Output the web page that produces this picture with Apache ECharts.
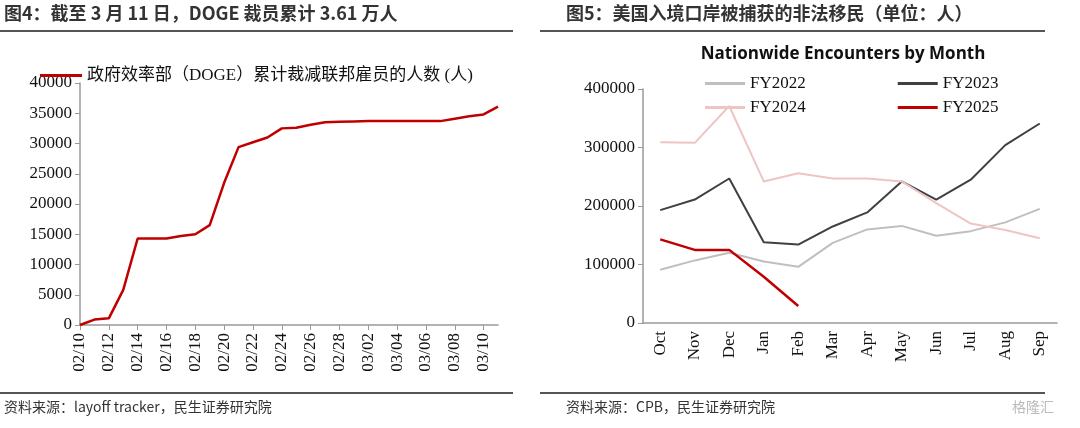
<!DOCTYPE html>
<html>
<head>
<meta charset="utf-8">
<script src="https://cdn.jsdelivr.net/npm/echarts@6/dist/echarts.min.js"></script>
<style>body{margin:0;background:#fff}</style>
</head>
<body>
<div id="main" style="width:1080px;height:428px;"></div>
<script>
// left chart: DOGE cumulative layoffs
var days = ['02/10','02/11','02/12','02/13','02/14','02/15','02/16','02/17','02/18','02/19','02/20','02/21','02/22','02/23','02/24','02/25','02/26','02/27','02/28','03/01','03/02','03/03','03/04','03/05','03/06','03/07','03/08','03/09','03/10','03/11'];
var dogeCuts = [0,900,1100,5800,14300,14300,14300,14700,15000,16500,23500,29400,30200,31000,32500,32600,33100,33500,33600,33650,33700,33700,33700,33700,33700,33700,34100,34500,34800,36100];

// right chart: encounters by month
var months = ['Oct','Nov','Dec','Jan','Feb','Mar','Apr','May','Jun','Jul','Aug','Sep'];
var fy2022 = [91000,107000,120000,105000,96000,137000,160000,166000,149000,157000,172000,195000];
var fy2023 = [193000,211000,247000,138000,134000,165000,189000,242000,211000,245000,304000,341000];
var fy2024 = [309000,308000,371000,242000,256000,247000,247000,242000,205000,170000,159000,145000];
var fy2025 = [143000,125000,125000,79000,29000];

var serif = '"Liberation Serif","Noto Sans CJK SC",serif';
var cjk = '"Noto Sans CJK SC",sans-serif';
var axisLine = {lineStyle: {color: '#999', width: 1.5}};
var axisTxt = {color: '#111', fontFamily: serif, fontSize: 17};
var yTxt = Object.assign({formatter: function (v) { return String(v); }}, axisTxt);

var myChart = echarts.init(document.getElementById('main'));
var option = {
    animation: false,
    graphic: [
        {type: 'text', left: 4, top: 4, style: {text: '图4：截至 3 月 11 日，DOGE 裁员累计 3.61 万人', font: 'bold 18px ' + cjk, fill: '#333'}},
        {type: 'text', left: 566, top: 4, style: {text: '图5：美国入境口岸被捕获的非法移民（单位：人）', font: 'bold 18px ' + cjk, fill: '#333'}},
        {type: 'line', shape: {x1: 0, y1: 31, x2: 513, y2: 31}, style: {stroke: '#555', lineWidth: 2}},
        {type: 'line', shape: {x1: 540, y1: 31, x2: 1045, y2: 31}, style: {stroke: '#555', lineWidth: 2}},
        {type: 'line', shape: {x1: 0, y1: 393, x2: 513, y2: 393}, style: {stroke: '#555', lineWidth: 2}},
        {type: 'line', shape: {x1: 540, y1: 393, x2: 1045, y2: 393}, style: {stroke: '#555', lineWidth: 2}},
        {type: 'text', left: 4, top: 400, style: {text: '资料来源：layoff tracker，民生证券研究院', font: '14px ' + cjk, fill: '#333'}},
        {type: 'text', left: 566, top: 400, style: {text: '资料来源：CPB，民生证券研究院', font: '14px ' + cjk, fill: '#333'}},
        {type: 'text', left: 1012, top: 400, style: {text: '格隆汇', font: '14px ' + cjk, fill: '#bbb'}},
        {type: 'text', x: 843, y: 46, style: {text: 'Nationwide Encounters by Month', font: 'bold 17px "Open Sans",sans-serif', fill: '#111', textAlign: 'center'}}
    ],
    legend: [
        {left: 35, top: 62, itemWidth: 42, itemHeight: 3, icon: 'rect', textStyle: {fontFamily: serif, fontSize: 17, color: '#111'},
         data: ['政府效率部（DOGE）累计裁减联邦雇员的人数 (人)']},
        {left: 700, top: 70, itemWidth: 40, itemHeight: 3, icon: 'rect', itemGap: 92, textStyle: {fontFamily: serif, fontSize: 17, color: '#111'}, data: ['FY2022', 'FY2023']},
        {left: 700, top: 94, itemWidth: 40, itemHeight: 3, icon: 'rect', itemGap: 92, textStyle: {fontFamily: serif, fontSize: 17, color: '#111'}, data: ['FY2024', 'FY2025']}
    ],
    grid: [
        {left: 80, top: 83, width: 418, height: 242},
        {left: 643, top: 89, width: 414, height: 234}
    ],
    xAxis: [
        {type: 'category', gridIndex: 0, data: days, boundaryGap: false,
         axisLine: axisLine, axisTick: {interval: 1, length: 5, lineStyle: {color: '#999'}},
         axisLabel: Object.assign({interval: 1, rotate: 90}, axisTxt)},
        {type: 'category', gridIndex: 1, data: months, boundaryGap: true,
         axisLine: axisLine, axisTick: {length: 5, lineStyle: {color: '#999'}},
         axisLabel: Object.assign({interval: 0, rotate: 90}, axisTxt)}
    ],
    yAxis: [
        {type: 'value', gridIndex: 0, min: 0, max: 40000, interval: 5000, splitLine: {show: false},
         axisLine: Object.assign({show: true}, axisLine), axisTick: {show: true, length: 5, lineStyle: {color: '#999'}}, axisLabel: yTxt},
        {type: 'value', gridIndex: 1, min: 0, max: 400000, interval: 100000, splitLine: {show: false},
         axisLine: Object.assign({show: true}, axisLine), axisTick: {show: true, length: 5, lineStyle: {color: '#999'}}, axisLabel: yTxt}
    ],
    series: [
        {name: '政府效率部（DOGE）累计裁减联邦雇员的人数 (人)', type: 'line', xAxisIndex: 0, yAxisIndex: 0, data: dogeCuts,
         symbol: 'none', color: '#c00000', lineStyle: {width: 2.5}},
        {name: 'FY2022', type: 'line', xAxisIndex: 1, yAxisIndex: 1, data: fy2022, symbol: 'none', color: '#bfbfbf', lineStyle: {width: 2}},
        {name: 'FY2023', type: 'line', xAxisIndex: 1, yAxisIndex: 1, data: fy2023, symbol: 'none', color: '#404040', lineStyle: {width: 2}},
        {name: 'FY2024', type: 'line', xAxisIndex: 1, yAxisIndex: 1, data: fy2024, symbol: 'none', color: '#efc4c4', lineStyle: {width: 2}},
        {name: 'FY2025', type: 'line', xAxisIndex: 1, yAxisIndex: 1, data: fy2025, symbol: 'none', color: '#c00000', lineStyle: {width: 2.5}}
    ]
};
myChart.setOption(option);
</script>
</body>
</html>
